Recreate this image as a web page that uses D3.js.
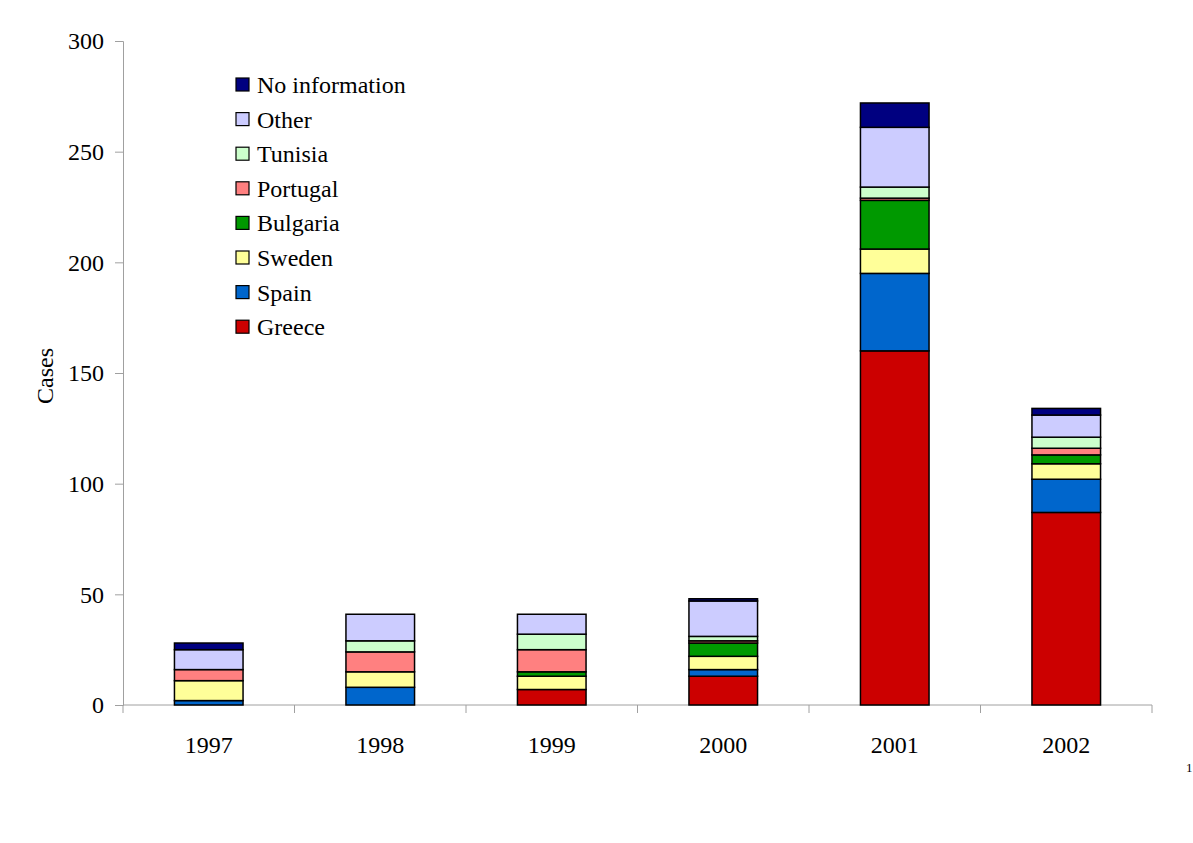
<!DOCTYPE html>
<html>
<head>
<meta charset="utf-8">
<script src="https://cdn.jsdelivr.net/npm/d3@7"></script>
<style>
  body { margin: 0; background: #fff; }
  text { font-family: "Liberation Serif", "Times New Roman", serif; fill: #000; }
</style>
</head>
<body>
<svg id="chart"></svg>
<script>
// data
var years = ["1997", "1998", "1999", "2000", "2001", "2002"];
var series = ["Greece", "Spain", "Sweden", "Bulgaria", "Portugal", "Tunisia", "Other", "No information"];
var greece   = [0, 0, 7, 13, 160, 87];
var spain    = [2, 8, 0, 3, 35, 15];
var sweden   = [9, 7, 6, 6, 11, 7];
var bulgaria = [0, 0, 2, 6, 22, 4];
var portugal = [5, 9, 10, 1, 1, 3];
var tunisia  = [0, 5, 7, 2, 5, 5];
var other    = [9, 12, 9, 16, 27, 10];
var noInfo   = [3, 0, 0, 1, 11, 3];
var yTicks = [0, 50, 100, 150, 200, 250, 300];

var colors = {
  "Greece": "#cc0000",
  "Spain": "#0066cc",
  "Sweden": "#ffff99",
  "Bulgaria": "#009900",
  "Portugal": "#ff8080",
  "Tunisia": "#ccffcc",
  "Other": "#ccccff",
  "No information": "#000080"
};

var width = 1193,
  height = 843,
  margin = {left: 123, right: 41, top: 41, bottom: 138};

var values = [greece, spain, sweden, bulgaria, portugal, tunisia, other, noInfo];
var rows = years.map(function (y, i) {
  var r = {year: y};
  series.forEach(function (s, j) { r[s] = values[j][i]; });
  return r;
});

var stacked = d3.stack().keys(series)(rows);

var svg = d3.select("#chart")
  .attr("width", width)
  .attr("height", height);

var x = d3.scaleBand()
  .domain(years)
  .range([margin.left, width - margin.right])
  .paddingInner(0.6)
  .paddingOuter(0.3);

var y = d3.scaleLinear()
  .domain([0, 300])
  .range([height - margin.bottom, margin.top]);

var axisColor = "#a0a0a0";
var fontSize = "24px";

// y axis
var yAxis = svg.append("g")
  .attr("transform", "translate(" + margin.left + ",0)")
  .call(d3.axisLeft(y).tickValues(yTicks).tickSize(8).tickPadding(11));
yAxis.select(".domain").attr("stroke", axisColor).attr("stroke-width", 1);
yAxis.selectAll(".tick line").attr("stroke", axisColor);
yAxis.selectAll("text").style("font-size", fontSize).attr("fill", "#000");

// x axis, ticks between the categories
var xAxis = svg.append("g")
  .attr("transform", "translate(0," + y(0) + ")");
xAxis.append("line")
  .attr("x1", margin.left).attr("x2", width - margin.right)
  .attr("y1", 0).attr("y2", 0)
  .attr("stroke", axisColor);
var step = (width - margin.right - margin.left) / years.length;
d3.range(years.length + 1).forEach(function (i) {
  xAxis.append("line")
    .attr("x1", margin.left + i * step).attr("x2", margin.left + i * step)
    .attr("y1", 0).attr("y2", 8)
    .attr("stroke", axisColor);
});
xAxis.selectAll("text.year")
  .data(years)
  .enter().append("text")
  .attr("class", "year")
  .attr("x", function (d) { return x(d) + x.bandwidth() / 2; })
  .attr("y", 48)
  .attr("text-anchor", "middle")
  .style("font-size", fontSize)
  .text(function (d) { return d; });

// axis title
svg.append("text")
  .attr("transform", "translate(53," + (y(150) + 3) + ") rotate(-90)")
  .attr("text-anchor", "middle")
  .style("font-size", fontSize)
  .text("Cases");

// bars
svg.append("g")
  .selectAll("g")
  .data(stacked)
  .enter().append("g")
  .attr("fill", function (d) { return colors[d.key]; })
  .selectAll("rect")
  .data(function (d) { return d.filter(function (p) { return p[1] > p[0]; }); })
  .enter().append("rect")
  .attr("x", function (d) { return x(d.data.year); })
  .attr("width", x.bandwidth())
  .attr("y", function (d) { return y(d[1]); })
  .attr("height", function (d) { return y(d[0]) - y(d[1]); })
  .attr("stroke", "#000")
  .attr("stroke-width", 1.5);

// legend, top entry is the last series
var legend = svg.append("g")
  .attr("transform", "translate(236,78)");
var legendItems = series.slice().reverse();
var lg = legend.selectAll("g")
  .data(legendItems)
  .enter().append("g")
  .attr("transform", function (d, i) { return "translate(0," + (i * 34.6) + ")"; });
lg.append("rect")
  .attr("width", 13).attr("height", 13)
  .attr("fill", function (d) { return colors[d]; })
  .attr("stroke", "#000")
  .attr("stroke-width", 1.2);
lg.append("text")
  .attr("x", 21)
  .attr("y", 15)
  .style("font-size", fontSize)
  .text(function (d) { return d; });

// page number in the corner
svg.append("text")
  .attr("x", 1186)
  .attr("y", 772)
  .style("font-size", "13px")
  .text("1");
</script>
</body>
</html>
